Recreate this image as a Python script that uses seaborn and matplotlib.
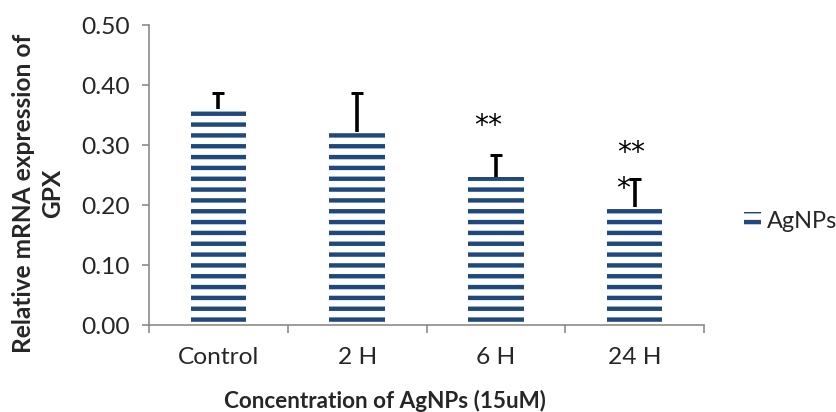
import pandas as pd
import matplotlib
matplotlib.use("Agg")
import matplotlib.pyplot as plt
import seaborn as sns

# data
categories = ["Control", "2 H", "6 H", "24 H"]
values = [0.360, 0.322, 0.247, 0.197]
errors = [0.026, 0.064, 0.037, 0.046]
series = "AgNPs"

# significance marks
star_x = [1.946, 2.975, 2.92]
star_y = [0.318, 0.273, 0.214]
star_text = ["**", "**", "*"]

df = pd.DataFrame({"cat": categories, "val": values, "grp": series})

DPI = 65
def pt(px):
    return px * 72 / DPI

sns.set_theme(style="white")
plt.rcParams["font.family"] = ["Lato", "DejaVu Sans"]
plt.rcParams["hatch.linewidth"] = pt(4.4)

dark = "#1F497D"
grey = "#868686"

fig = plt.figure(figsize=(836 / DPI, 412 / DPI), dpi=DPI)
ax = fig.add_axes([149 / 836, 87 / 412, 555 / 836, 300 / 412])

sns.barplot(data=df, x="cat", y="val", hue="grp", palette=["white"],
            width=0.4, ax=ax, linewidth=0, edgecolor=dark)
for p in ax.patches:
    p.set_hatch("-")
    p.set_edgecolor(dark)
    p.set_linewidth(0)

# only the upper half of each error bar, as in the original
eb = ax.errorbar(range(len(categories)), values,
                 yerr=[[0] * len(values), errors],
                 fmt="none", ecolor="black", elinewidth=pt(3.6),
                 capsize=pt(6.3), capthick=pt(3.0), zorder=3)
for cl in eb[1]:
    if list(cl.get_ydata()) == values:
        cl.remove()

for x, y, t in zip(star_x, star_y, star_text):
    ax.text(x, y, t, ha="center", va="baseline", fontsize=pt(28),
            family="DejaVu Sans", color="black")

ax.set_xlim(-0.5, 3.5)
ax.set_ylim(0, 0.5)
yt = [0, 0.1, 0.2, 0.3, 0.4, 0.5]
ax.set_yticks(yt)
ax.set_yticklabels([f"{v:.2f}" for v in yt])
ax.set_xticks(range(len(categories)))
ax.set_xticklabels(categories)
ax.set_xticks([-0.5, 0.5, 1.5, 2.5, 3.5], minor=True)

for s in ["top", "right"]:
    ax.spines[s].set_visible(False)
for s in ["left", "bottom"]:
    ax.spines[s].set_color(grey)
    ax.spines[s].set_linewidth(pt(1.6))

ax.tick_params(axis="y", which="major", left=True, length=pt(7), width=pt(1.6),
               color=grey, labelsize=pt(24.5), pad=pt(12))
ax.tick_params(axis="x", which="major", bottom=False, length=0,
               labelsize=pt(24.5), pad=pt(22))
ax.tick_params(axis="x", which="minor", bottom=True, length=pt(8), width=pt(1.6),
               color=grey)

ax.set_xlabel("Concentration of AgNPs (15uM)", fontsize=pt(22.5), fontweight="bold")
ax.xaxis.set_label_coords((385 - 149) / 555, (325 - 390) / 300)
ax.set_ylabel("Relative mRNA expression of\nGPX", fontsize=pt(24.5),
              fontweight="bold", linespacing=1.3, va="center")
ax.yaxis.set_label_coords((38 - 149) / 555, (325 - 193) / 300)

leg = ax.legend(loc="center left", bbox_to_anchor=(744 / 836, (412 - 222) / 412),
                bbox_transform=fig.transFigure, frameon=False,
                fontsize=pt(23.5), handlelength=0.72, handleheight=0.64,
                handletextpad=0.25, borderpad=0, borderaxespad=0)
for h in leg.legend_handles:
    h.set_hatch("-")
    h.set_edgecolor(dark)
    h.set_linewidth(0)

fig.savefig("out.png", dpi=DPI)
